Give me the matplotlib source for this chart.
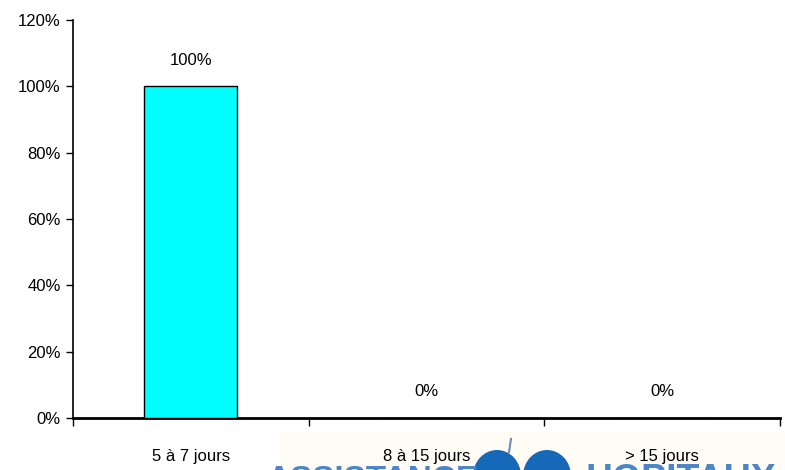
import matplotlib
matplotlib.use("Agg")
import matplotlib.pyplot as plt
from matplotlib.patches import Rectangle, Ellipse
from matplotlib.lines import Line2D
from matplotlib import font_manager

categories = ["5 à 7 jours", "8 à 15 jours", "> 15 jours"]
values = [1.00, 0.00, 0.00]
y_ticks = [0.0, 0.2, 0.4, 0.6, 0.8, 1.0, 1.2]

names = {f.name for f in font_manager.fontManager.ttflist}
family = [n for n in ["Liberation Sans Narrow", "Liberation Sans", "DejaVu Sans"] if n in names]
plt.rcParams["font.family"] = family

fig = plt.figure(figsize=(7.85, 4.70), dpi=100)
ax = fig.add_axes([0.093, 0.1106, 0.9006, 0.8468])

x = list(range(len(categories)))
ax.bar(x, values, width=0.395, color="#00FFFF", edgecolor="black", linewidth=1.0, zorder=3)

for xi, v in zip(x, values):
    ax.annotate(f"{v:.0%}", (xi, v), xytext=(0, 13.5), textcoords="offset points",
                ha="center", va="bottom", fontsize=12)

ax.set_xlim(-0.5, len(categories) - 0.5)
ax.set_ylim(0, 1.2)
ax.set_yticks(y_ticks)
ax.set_yticklabels([f"{t:.0%}" for t in y_ticks], fontsize=12)

ax.set_xticks([i - 0.5 for i in range(len(categories) + 1)])
ax.set_xticklabels([])
ax.set_xticks(x, minor=True)
ax.set_xticklabels(categories, minor=True, fontsize=12)
ax.tick_params(axis="x", which="major", direction="out", length=6, width=1)
ax.tick_params(axis="x", which="minor", length=0, pad=22)
ax.tick_params(axis="y", direction="out", length=5, width=1, pad=4)

for s in ["top", "right"]:
    ax.spines[s].set_visible(False)
ax.spines["left"].set_linewidth(1.2)
ax.spines["bottom"].set_linewidth(2.0)

# Hospital logo band along the bottom edge, behind the category labels
W, H = 785, 470
fig.patches.append(Rectangle((280 / W, 0), 505 / W, 38 / H, transform=fig.transFigure,
                             facecolor="#fffbf5", edgecolor="none", zorder=-2))
logo_blue = "#4a86c8"
fig.text(266 / W, -19 / H, "ASSISTANCE", color=logo_blue, fontsize=24, fontweight="bold",
         family=["Liberation Sans", "DejaVu Sans"], va="baseline", ha="left", zorder=-1)
fig.text(585 / W, -21 / H, "HOPITAUX", color=logo_blue, fontsize=27, fontweight="bold",
         family=["Liberation Sans", "DejaVu Sans"], va="baseline", ha="left", zorder=-1)
emblem_blue = "#1668b8"
for cx in (497, 547):
    fig.patches.append(Ellipse((cx / W, -6 / H), 48 / W, 52 / H, transform=fig.transFigure,
                               facecolor=emblem_blue, edgecolor="none", zorder=-1))
fig.lines.append(Line2D([509 / W, 511 / W], [18 / H, 31 / H], transform=fig.transFigure,
                        color="#6a8db5", linewidth=1.5, zorder=-1))

fig.savefig("out.png", dpi=100, facecolor="white")
